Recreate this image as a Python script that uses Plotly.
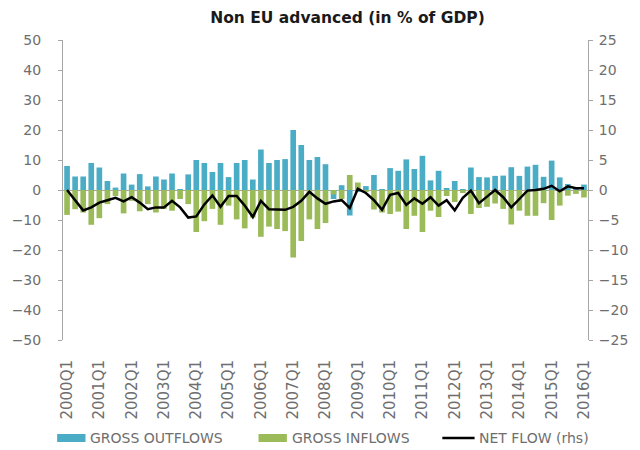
import plotly.graph_objects as go

years = list(range(2000, 2017))
quarters = [f"{y}Q{q}" for y in years for q in range(1, 5)][:65]

outflows = [8, 4.5, 4.5, 9, 7.5, 3, 0.8, 5.5, 1.8, 5.3, 1.2, 4.5, 3.5, 5.5, 0.3, 5.2,
            10, 9, 6, 9, 4.3, 9, 10, 3.5, 13.5, 9, 10, 10.3, 20, 15, 10, 11,
            8.6, -3, 1.6, -8.5, -0.5, 1.3, 5, 0.3, 7.3, 6.4, 10.2, 7, 11.4, 3.2, 6.4, 0.5,
            3, 0.3, 7.5, 4.3, 4.2, 4.7, 4.8, 7.6, 4.7, 7.8, 8.4, 4.4, 9.8, 4.2, 2, 0.9, 1.8]
inflows = [-8.3, -6.4, -7.5, -11.6, -9.4, -4.7, -2, -7.8, -3.6, -7.1, -4.7, -7.5, -6.3, -6.9, -3, -4.7,
           -14, -10.4, -6.3, -11.6, -5.2, -9.8, -12.8, -9.2, -15.6, -12.2, -13, -13.7, -22.5, -17, -9.8, -13,
           -11, -1.5, -3, 5, 2.5, -0.5, -6.5, -7.5, -8, -7.2, -13, -8.6, -14, -6.9, -9, -2,
           -4, -1, -8, -6, -5.6, -4.5, -6.3, -11.5, -6.9, -8.6, -8.6, -4.4, -10, -5.2, -1.9, -1.3, -2.5]
net_flow = [0, -1.8, -3.4, -2.9, -2.1, -1.7, -1.3, -1.9, -1.2, -2.1, -3.2, -2.9, -2.9, -1.8, -2.9, -4.6,
            -4.4, -2.4, -0.9, -2.8, -1.0, -1.0, -2.6, -4.5, -1.8, -3.2, -3.3, -3.3, -2.8, -1.8, -0.3, -1.4,
            -2.3, -1.9, -1.7, -3.0, 0.2, -0.5, -1.7, -3.3, -0.8, -0.5, -2.5, -1.4, -2.3, -1.2, -2.6, -1.7,
            -3.4, -1.3, -0.1, -2.2, -1.1, 0, -1.2, -2.9, -1.5, -0.1, 0, 0.2, 0.7, -0.2, 0.6, 0.3, 0.3]

tick_labels = [q for q in quarters if q.endswith("Q1")]
left_ticks = list(range(-50, 51, 10))
right_ticks = list(range(-25, 26, 5))

series_names = ["GROSS OUTFLOWS", "GROSS INFLOWS", "NET FLOW (rhs)"]
blue = "#4BACC6"
green = "#9BBB59"
gray = "#6e6e6e"
axis_col = "#A6A6A6"
font_family = "DejaVu Sans, sans-serif"

W, H = 640, 450
L, R, T, B = 52, 51, 40, 110
pw, ph = W - L - R, H - T - B


def px(x):
    return (x - L) / pw


def py(y):
    return (H - B - y) / ph


fig = go.Figure()
fig.add_trace(go.Bar(x=quarters, y=outflows, name=series_names[0],
                     marker=dict(color=blue, line=dict(width=0)), width=0.7))
fig.add_trace(go.Bar(x=quarters, y=inflows, name=series_names[1],
                     marker=dict(color=green, line=dict(width=0)), width=0.7))
fig.add_trace(go.Scatter(x=quarters, y=net_flow, name=series_names[2], yaxis="y2",
                         mode="lines", line=dict(color="black", width=2.5)))

# custom legend (symbols + labels) below the chart
leg_y = 438
shapes = [
    dict(type="rect", xref="paper", yref="paper", x0=px(46), x1=px(75),
         y0=py(leg_y + 4), y1=py(leg_y - 4), fillcolor=blue, line=dict(width=0)),
    dict(type="rect", xref="paper", yref="paper", x0=px(252), x1=px(281),
         y0=py(leg_y + 4), y1=py(leg_y - 4), fillcolor=green, line=dict(width=0)),
    dict(type="line", xref="paper", yref="paper", x0=px(440), x1=px(473),
         y0=py(leg_y), y1=py(leg_y), line=dict(color="black", width=2.5)),
]
annotations = [
    dict(text=series_names[0], xref="paper", yref="paper", x=px(78), y=py(leg_y),
         xanchor="left", yanchor="middle", showarrow=False, font=dict(size=14, color=gray)),
    dict(text=series_names[1], xref="paper", yref="paper", x=px(284), y=py(leg_y),
         xanchor="left", yanchor="middle", showarrow=False, font=dict(size=14, color=gray)),
    dict(text=series_names[2], xref="paper", yref="paper", x=px(475), y=py(leg_y),
         xanchor="left", yanchor="middle", showarrow=False, font=dict(size=14, color=gray)),
]

# tick marks on the zero (category) axis, between categories
boundaries = [i - 0.5 for i in range(len(quarters) + 1)]

fig.update_layout(
    width=W, height=H,
    margin=dict(l=L, r=R, t=T, b=B),
    paper_bgcolor="white", plot_bgcolor="white",
    barmode="overlay",
    showlegend=False,
    font=dict(family=font_family, color=gray, size=14),
    title=dict(text="<b>Non EU advanced (in % of GDP)</b>", x=347.5 / W, xanchor="center",
               y=1 - 18 / H, yanchor="middle", xref="container", yref="container",
               font=dict(size=15.5, color="#1a1a1a", family=font_family)),
    xaxis=dict(type="category", categoryorder="array", categoryarray=quarters,
               range=[-0.5, 64.5], tickmode="array", tickvals=tick_labels, ticktext=tick_labels,
               tickangle=-90, showline=False, showgrid=False, zeroline=False,
               ticks="outside", ticklen=13, tickcolor="rgba(0,0,0,0)",
               tickfont=dict(size=15, color=gray)),
    xaxis2=dict(overlaying="x", anchor="free", position=0.5, type="linear",
                range=[-0.5, 64.5], tickmode="array", tickvals=boundaries,
                showticklabels=False, ticks="outside", ticklen=3, tickcolor=axis_col,
                showline=False, showgrid=False, zeroline=False),
    yaxis=dict(range=[-50, 50], tickvals=left_ticks, showgrid=False,
               showline=True, linecolor=axis_col, linewidth=1, ticks="outside",
               ticklen=4, tickcolor=axis_col, zeroline=True, zerolinecolor=axis_col,
               zerolinewidth=1, ticklabelstandoff=14, tickfont=dict(size=14, color=gray)),
    yaxis2=dict(range=[-25, 25], tickvals=right_ticks, overlaying="y", side="right",
                showgrid=False, showline=True, linecolor=axis_col, linewidth=1,
                ticks="outside", ticklen=4, tickcolor=axis_col, zeroline=False,
                ticklabelstandoff=3, tickfont=dict(size=14, color=gray)),
    shapes=shapes,
    annotations=annotations,
)

fig.write_html("out.html", config={"displayModeBar": False},
               post_script="document.body.style.margin='0';document.body.style.padding='0';"
                           "document.body.style.overflow='hidden';")
